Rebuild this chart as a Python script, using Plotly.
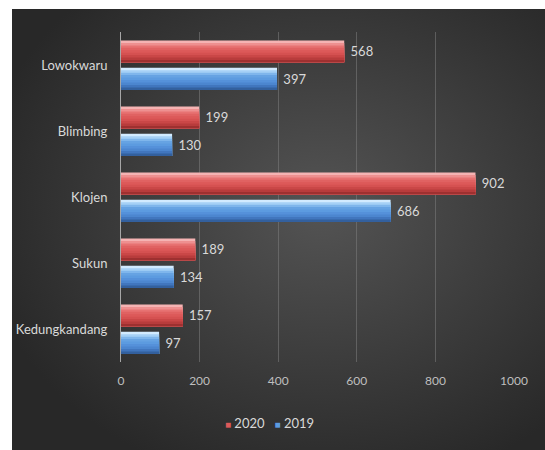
import base64
import plotly.graph_objects as go

# Kecamatan (district) names and yearly counts
districts = ["Lowokwaru", "Blimbing", "Klojen", "Sukun", "Kedungkandang"]
values_2020 = [568, 199, 902, 189, 157]
values_2019 = [397, 130, 686, 134, 97]
tick_values = [0, 200, 400, 600, 800, 1000]

FONT = "Lato, Calibri, sans-serif"
LABEL = "#D9D9D9"

# shading bands, top edge to bottom edge, for the bevelled bars
RED_SHADES = ["#F5B3B3", "#EE9090", "#E77272", "#E06262", "#DC5959",
              "#D55151", "#CA4747", "#B83C3C", "#9E3030"]
BLUE_SHADES = ["#D2EBFF", "#A5D0F6", "#7FB6EC", "#66A3E3", "#5C9BE0",
               "#5591DA", "#4C86CF", "#4176BE", "#33609E"]

W, H = 545, 450
ML, MR, MT, MB = 121, 31, 32, 88
plot_w = W - ML - MR
plot_h = H - MT - MB

# dark panel with a soft radial highlight
svg = """<svg xmlns='http://www.w3.org/2000/svg' width='533' height='441' viewBox='0 0 533 441' preserveAspectRatio='none'>
<defs><radialGradient id='g' cx='0.58' cy='0.45' r='0.65'>
<stop offset='0' stop-color='#545454'/>
<stop offset='0.5' stop-color='#3e3e3e'/>
<stop offset='1' stop-color='#282828'/>
</radialGradient></defs>
<rect width='533' height='441' fill='url(#g)'/>
</svg>"""
bg_uri = "data:image/svg+xml;base64," + base64.b64encode(svg.encode()).decode()

panel_x0 = (12 - ML) / plot_w
panel_x1 = (W - ML) / plot_w
panel_y1 = (H - MB - 9) / plot_h
panel_y0 = (H - MB - H) / plot_h

fig = go.Figure()


def add_series(name, values, shades, offset, width):
    # full bar carrying the value label (lightest shade, shows along the top edge)
    fig.add_trace(go.Bar(
        name=name, y=districts, x=values, orientation="h",
        offset=offset, width=width,
        marker=dict(color=shades[0], line=dict(width=0)),
        text=[" " + str(v) for v in values], textposition="outside",
        textfont=dict(color=LABEL, size=13, family=FONT),
        cliponaxis=False,
    ))
    # each following layer starts a little lower and runs to the bottom edge
    band = width / len(shades)
    for k in range(1, len(shades)):
        fig.add_trace(go.Bar(
            name=name, y=districts, x=values, orientation="h",
            offset=offset + k * band, width=width - k * band,
            marker=dict(color=shades[k], line=dict(width=0)),
            showlegend=False, hoverinfo="skip",
        ))


add_series("2020", values_2020, RED_SHADES, -0.37, 0.33)
add_series("2019", values_2019, BLUE_SHADES, 0.04, 0.34)

fig.update_layout(
    width=W, height=H,
    margin=dict(l=ML, r=MR, t=MT, b=MB, pad=0),
    paper_bgcolor="white",
    plot_bgcolor="rgba(0,0,0,0)",
    barmode="overlay",
    font=dict(family=FONT, color=LABEL, size=13),
    showlegend=False,
    images=[dict(source=bg_uri, xref="paper", yref="paper",
                 x=panel_x0, y=panel_y1,
                 sizex=panel_x1 - panel_x0, sizey=panel_y1 - panel_y0,
                 xanchor="left", yanchor="top", sizing="stretch", layer="below")],
    annotations=[dict(
        xref="paper", yref="paper",
        x=(269 - ML) / plot_w, y=(H - MB - 423) / plot_h,
        xanchor="center", yanchor="middle", showarrow=False,
        text=(f"<span style='color:{RED_SHADES[4]};font-size:10px'>■</span> 2020   "
              f"<span style='color:{BLUE_SHADES[4]};font-size:10px'>■</span> 2019"),
        font=dict(size=13, color=LABEL, family=FONT),
    )],
)
fig.update_xaxes(range=[0, 1000], tickvals=tick_values, showgrid=True,
                 gridcolor="rgba(125,125,125,0.55)", gridwidth=1, zeroline=False,
                 automargin=False,
                 tickfont=dict(size=12, color="#BFBFBF"), ticks="", ticklabelstandoff=10)
fig.update_yaxes(autorange="reversed", showline=True, linecolor="#A6A6A6", linewidth=1,
                 automargin=False,
                 ticks="", tickfont=dict(size=13, color=LABEL), ticklabelstandoff=10)

fig.write_html("out.html")
